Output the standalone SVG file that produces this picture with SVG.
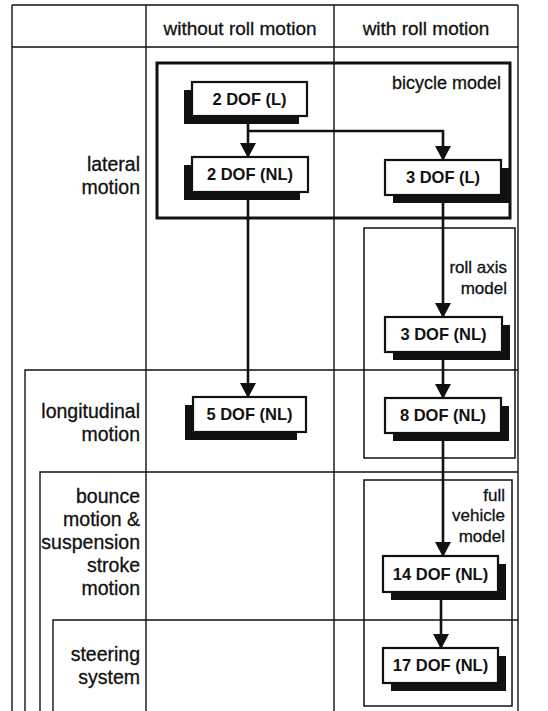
<svg xmlns="http://www.w3.org/2000/svg" width="548" height="711" viewBox="0 0 548 711">
<defs>
<style>
.grid{stroke:#111;stroke-width:1.4;fill:none}
.frame{stroke:#111;fill:none}
.lbl{font-family:"Liberation Sans",Arial,sans-serif;font-size:19.5px;fill:#111;stroke:#111;stroke-width:0.3}
.sm{font-size:17px}
.hd{font-size:19px}
.bm{font-size:18px}
.node rect.front{fill:#fff;stroke:#111;stroke-width:2.2}
.node rect.shadow{fill:#111}
.node text{font-family:"Liberation Sans",Arial,sans-serif;font-size:16.5px;font-weight:bold;fill:#111;text-anchor:middle}
.conn{stroke:#111;stroke-width:2.6;fill:none}
</style>
<marker id="arr" markerWidth="16" markerHeight="16" refX="14" refY="8" orient="auto" markerUnits="userSpaceOnUse">
<path d="M0,0 L15,8 L0,16 Z" fill="#111"/>
</marker>
</defs>
<rect width="548" height="711" fill="#fff"/>
<g id="table">
<line class="grid" x1="12" y1="5" x2="518" y2="5"/>
<line class="grid" x1="12" y1="5" x2="12" y2="711"/>
<line class="grid" x1="518" y1="5" x2="518" y2="711"/>
<line class="grid" x1="12" y1="47" x2="518" y2="47"/>
<line class="grid" x1="146" y1="5" x2="146" y2="711"/>
<line class="grid" x1="334" y1="5" x2="334" y2="711"/>
<polyline class="grid" points="25,711 25,370 518,370"/>
<polyline class="grid" points="40,711 40,472 518,472"/>
<polyline class="grid" points="53,711 53,620 518,620"/>
<text class="lbl hd" x="240" y="35" text-anchor="middle">without roll motion</text>
<text class="lbl hd" x="426" y="35" text-anchor="middle">with roll motion</text>
<text class="lbl" x="140" y="171" text-anchor="end">lateral</text>
<text class="lbl" x="140" y="194" text-anchor="end">motion</text>
<text class="lbl" x="140" y="418" text-anchor="end">longitudinal</text>
<text class="lbl" x="140" y="441" text-anchor="end">motion</text>
<text class="lbl" x="140" y="503" text-anchor="end">bounce</text>
<text class="lbl" x="140" y="526" text-anchor="end">motion &amp;</text>
<text class="lbl" x="140" y="549" text-anchor="end">suspension</text>
<text class="lbl" x="140" y="572" text-anchor="end">stroke</text>
<text class="lbl" x="140" y="595" text-anchor="end">motion</text>
<text class="lbl" x="140" y="661" text-anchor="end">steering</text>
<text class="lbl" x="140" y="684" text-anchor="end">system</text>
</g>
<g id="bicycle-model">
<rect class="frame" x="157" y="63" width="353" height="155" stroke-width="3"/>
<text class="lbl bm" x="501" y="89" text-anchor="end">bicycle model</text>
</g>
<g id="roll-axis-model">
<rect class="frame" x="364" y="228" width="151" height="230" stroke-width="1.5"/>
<text class="lbl sm" x="507" y="273" text-anchor="end">roll axis</text>
<text class="lbl sm" x="507" y="294" text-anchor="end">model</text>
</g>
<g id="full-vehicle-model">
<rect class="frame" x="364" y="480" width="148" height="226" stroke-width="1.5"/>
<text class="lbl sm" x="505" y="501" text-anchor="end">full</text>
<text class="lbl sm" x="505" y="521" text-anchor="end">vehicle</text>
<text class="lbl sm" x="505" y="542" text-anchor="end">model</text>
</g>
<g id="connectors">
<line class="conn" x1="248" y1="116" x2="248" y2="157" marker-end="url(#arr)"/>
<polyline class="conn" points="248,131 443,131 443,160" marker-end="url(#arr)"/>
<line class="conn" x1="248" y1="192" x2="248" y2="397" marker-end="url(#arr)"/>
<line class="conn" x1="443" y1="195" x2="443" y2="317" marker-end="url(#arr)"/>
<line class="conn" x1="443" y1="352" x2="443" y2="398" marker-end="url(#arr)"/>
<line class="conn" x1="443" y1="433" x2="443" y2="556" marker-end="url(#arr)"/>
<line class="conn" x1="441" y1="592" x2="441" y2="648" marker-end="url(#arr)"/>
</g>
<g id="n-2dof-l" class="node">
<rect class="shadow" x="184" y="90" width="115" height="34"/>
<rect class="front" x="192" y="82" width="115" height="34"/>
<text x="249.5" y="105">2 DOF (L)</text>
</g>
<g id="n-2dof-nl" class="node">
<rect class="shadow" x="184" y="165" width="116" height="35"/>
<rect class="front" x="192" y="157" width="116" height="35"/>
<text x="250" y="180">2 DOF (NL)</text>
</g>
<g id="n-3dof-l" class="node">
<rect class="shadow" x="393" y="168" width="116" height="35"/>
<rect class="front" x="385" y="160" width="116" height="35"/>
<text x="443" y="183">3 DOF (L)</text>
</g>
<g id="n-3dof-nl" class="node">
<rect class="shadow" x="393" y="325" width="117" height="35"/>
<rect class="front" x="385" y="317" width="117" height="35"/>
<text x="443.5" y="340">3 DOF (NL)</text>
</g>
<g id="n-5dof-nl" class="node">
<rect class="shadow" x="185" y="405" width="112" height="35"/>
<rect class="front" x="193" y="397" width="113" height="35"/>
<text x="249.5" y="420">5 DOF (NL)</text>
</g>
<g id="n-8dof-nl" class="node">
<rect class="shadow" x="393" y="406" width="116" height="35"/>
<rect class="front" x="385" y="398" width="116" height="35"/>
<text x="443" y="421">8 DOF (NL)</text>
</g>
<g id="n-14dof-nl" class="node">
<rect class="shadow" x="391" y="564" width="115" height="36"/>
<rect class="front" x="383" y="556" width="115" height="36"/>
<text x="440.5" y="580">14 DOF (NL)</text>
</g>
<g id="n-17dof-nl" class="node">
<rect class="shadow" x="391" y="656" width="115" height="35"/>
<rect class="front" x="383" y="648" width="115" height="35"/>
<text x="440.5" y="671">17 DOF (NL)</text>
</g>
</svg>
